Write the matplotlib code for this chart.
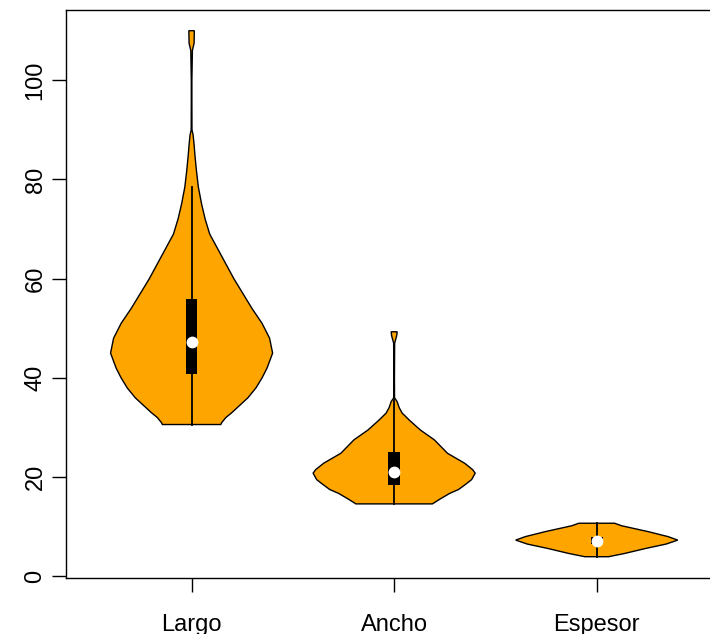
import matplotlib
matplotlib.use("Agg")
import matplotlib.pyplot as plt
import numpy as np

plt.rcParams["font.family"] = ["Liberation Sans", "DejaVu Sans"]

# Groups shown on the x axis
categories = ["Largo", "Ancho", "Espesor"]

# Density outlines: value levels and relative half-widths of each violin
largo_y = [110.0, 109.7, 107.5, 106.0, 100.0, 95.0, 90.0, 89.0, 87.0, 85.0, 82.0,
           78.5, 75.0, 72.0, 69.0, 66.0, 63.0, 60.0, 57.0, 54.0, 51.0, 48.0, 45.0,
           42.0, 40.0, 38.0, 36.0, 34.5, 33.0, 32.0, 31.0, 30.6]
largo_d = [2.7, 2.7, 2.5, 0.8, 0.3, 0.3, 0.4, 1.5, 2.5, 3.3, 4.7,
           6.7, 10.0, 13.5, 18.0, 26.0, 34.0, 42.0, 51.0, 60.0, 70.0, 77.5, 80.5,
           75.0, 70.0, 64.0, 56.0, 48.0, 40.0, 34.0, 30.0, 29.0]

ancho_y = [49.3, 48.5, 47.0, 40.0, 36.0, 35.2, 34.0, 32.9, 31.5, 29.5, 27.5,
           24.8, 22.8, 21.5, 20.8, 19.5, 18.7, 17.5, 16.7, 15.5, 14.6]
ancho_d = [3.0, 2.5, 0.5, 0.3, 0.4, 3.0, 5.0, 8.0, 15.0, 26.0, 40.0,
           53.0, 70.0, 78.0, 80.5, 77.0, 72.0, 64.0, 55.0, 45.0, 38.0]

espesor_y = [10.7, 10.2, 9.0, 8.0, 7.3, 6.5, 5.6, 4.6, 3.95]
espesor_d = [18.0, 25.0, 52.0, 72.0, 81.7, 70.0, 49.0, 28.0, 12.0]

# Box-plot summaries per group
q1 = [40.85, 18.4, 6.5]
q3 = [55.9, 25.1, 8.0]
medians = [47.2, 21.0, 7.2]
whisker_lo = [30.6, 14.6, 3.95]
whisker_hi = [78.5, 35.5, 10.7]

y_ticks = [0, 20, 40, 60, 80, 100]

profiles = [(largo_y, largo_d), (ancho_y, ancho_d), (espesor_y, espesor_d)]

fig = plt.figure(figsize=(7.1, 6.34), dpi=100)
ax = fig.add_axes([66 / 710, 56.5 / 634, 656.3 / 710, 567.5 / 634])

max_half = 0.40
box_half = 0.029

for i, (ys, ds) in enumerate(profiles):
    x = i + 1
    ys = np.asarray(ys)
    ds = np.asarray(ds)
    hw = ds / ds.max() * max_half
    px = np.concatenate([x - hw, (x + hw)[::-1]])
    py = np.concatenate([ys, ys[::-1]])
    ax.fill(px, py, facecolor="#FFA500", edgecolor="black", linewidth=1.0, zorder=2)
    ax.plot([x, x], [whisker_lo[i], whisker_hi[i]], color="black", linewidth=1.3, zorder=3)
    ax.add_patch(plt.Rectangle((x - box_half, q1[i]), 2 * box_half, q3[i] - q1[i],
                               facecolor="black", edgecolor="none", zorder=4))
    ax.plot([x], [medians[i]], marker="o", color="white", markersize=8.5,
            markeredgewidth=0, zorder=5)

ax.set_xlim(0.38, 3.62)
ax.set_ylim(-0.24, 114.17)

ax.set_xticks([1, 2, 3])
ax.set_xticklabels(categories)
ax.set_yticks(y_ticks)
ax.set_yticklabels([str(v) for v in y_ticks], rotation=90, va="center")

ax.tick_params(axis="both", length=10, width=1.0, labelsize=17, direction="out")
ax.tick_params(axis="x", pad=16)
ax.tick_params(axis="y", pad=4)

for sp in ax.spines.values():
    sp.set_linewidth(1.0)

fig.savefig("out.png", dpi=100)
